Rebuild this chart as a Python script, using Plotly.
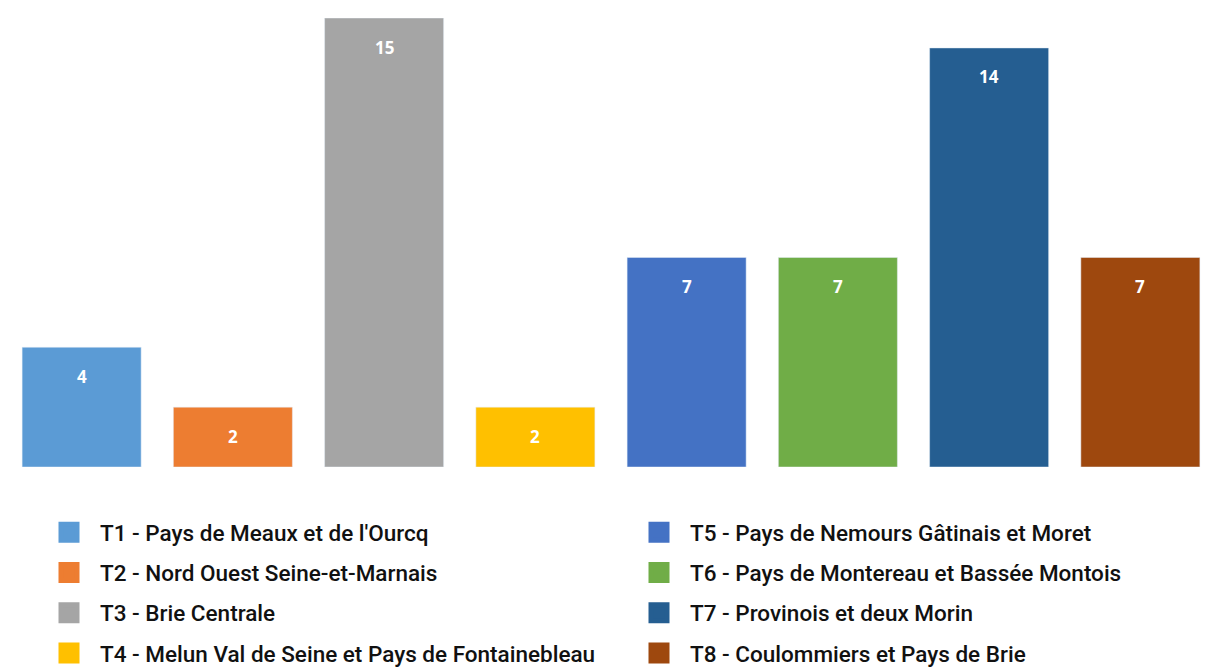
import plotly.graph_objects as go

categories = ["T1", "T2", "T3", "T4", "T5", "T6", "T7", "T8"]
labels = [
    "T1 - Pays de Meaux et de l'Ourcq",
    "T2 - Nord Ouest Seine-et-Marnais",
    "T3 - Brie Centrale",
    "T4 - Melun Val de Seine et Pays de Fontainebleau",
    "T5 - Pays de Nemours Gâtinais et Moret",
    "T6 - Pays de Montereau et Bassée Montois",
    "T7 - Provinois et deux Morin",
    "T8 - Coulommiers et Pays de Brie",
]
values = [4, 2, 15, 2, 7, 7, 14, 7]
colors = ["#5B9BD5", "#ED7D31", "#A5A5A5", "#FFC000",
          "#4472C4", "#70AD47", "#255E91", "#9E480E"]

W, H = 1227, 672
fig = go.Figure()

for i, (c, lab, v, col) in enumerate(zip(categories, labels, values, colors)):
    fig.add_trace(go.Bar(x=[c], y=[v], marker_color=col, showlegend=False,
                         hoverinfo="skip"))
    fig.add_annotation(x=c, y=v, text=str(v), showarrow=False, yshift=-29,
                       font=dict(family="Open Sans", size=17, color="white", weight="bold"),
                       xref="x", yref="y")

for i, (c, lab, col) in enumerate(zip(categories, labels, colors)):
    # legend entries (dummy, on hidden secondary axes)
    fig.add_trace(go.Scatter(
        x=[None], y=[None], mode="markers", name=lab,
        xaxis="x2", yaxis="y2",
        marker=dict(symbol="square", size=16, color=col,
                    line=dict(color=col, width=5)),
        legend="legend" if i < 4 else "legend2",
        legendgroup=c,
    ))

legend_font = dict(family="Roboto", size=22.5, color="#111111", weight=500)
common = dict(xref="container", yref="container", yanchor="top", xanchor="left",
              font=legend_font, tracegroupgap=8, itemwidth=52,
              bgcolor="rgba(0,0,0,0)", traceorder="grouped")

fig.update_layout(
    width=W, height=H,
    margin=dict(l=6, r=11, t=18, b=205, autoexpand=False),
    paper_bgcolor="white", plot_bgcolor="white",
    barmode="overlay", bargap=0.213,
    xaxis=dict(visible=False, type="category", categoryorder="array",
               categoryarray=categories, range=[-0.5, 7.5]),
    yaxis=dict(visible=False, range=[0, 15]),
    xaxis2=dict(visible=False, overlaying="x"),
    yaxis2=dict(visible=False, overlaying="y"),
    legend=dict(x=38 / W, y=1 - 511 / H, **common),
    legend2=dict(x=628 / W, y=1 - 511 / H, **common),
)

fig.write_html("out.html", config={"displayModeBar": False},
               post_script="document.body.style.margin='0';")
